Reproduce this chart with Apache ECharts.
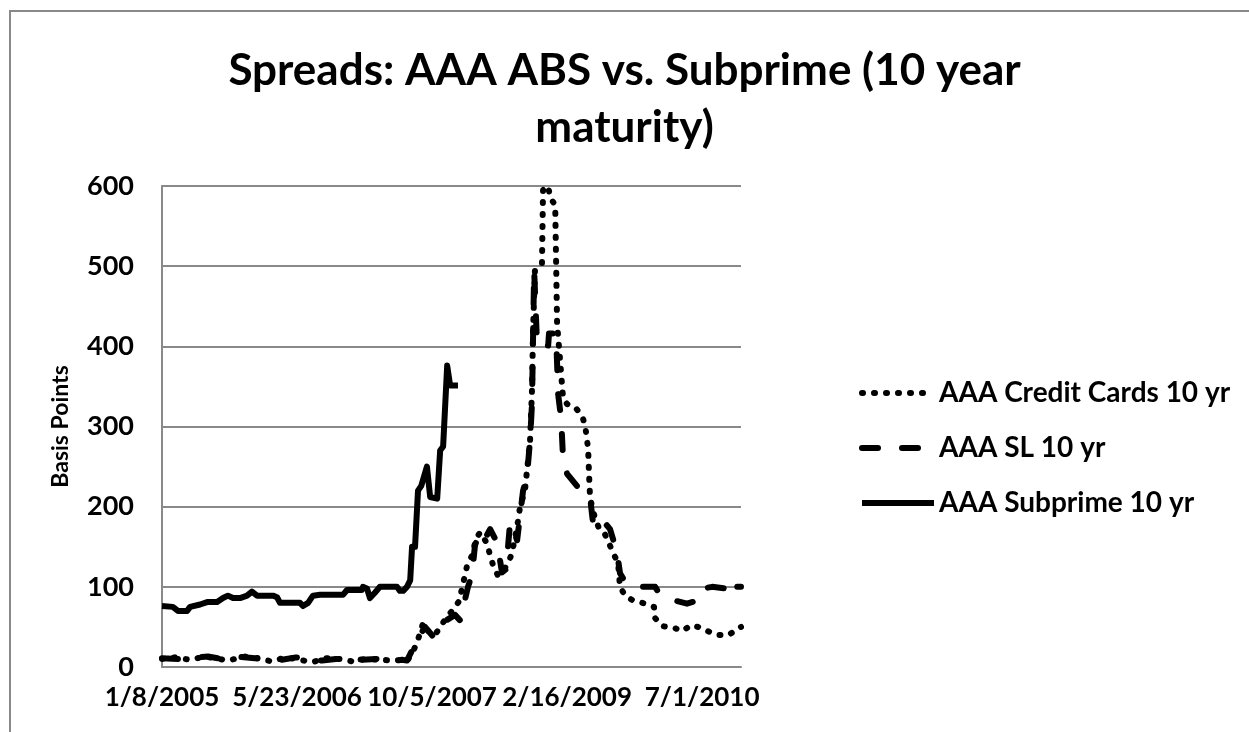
<!DOCTYPE html>
<html>
<head>
<meta charset="utf-8">
<script src="https://cdn.jsdelivr.net/npm/echarts@6/dist/echarts.min.js"></script>
<style>
html, body { margin: 0; padding: 0; background: #fff; }
#chart { width: 1249px; height: 732px; }
</style>
</head>
<body>
<div id="chart"></div>
<script>
const startDate = '2005-01-08'
const endDate = '2010-11-22'
const xTickLabels = ['1/8/2005', '5/23/2006', '10/5/2007', '2/16/2009', '7/1/2010']
const seriesNames = ['AAA Credit Cards 10 yr', 'AAA SL 10 yr', 'AAA Subprime 10 yr']

const creditCardDates = [
    '2005-01-08', '2005-02-25', '2005-04-22', '2005-06-16', '2005-07-23', '2005-09-09', '2005-11-11',
    '2006-01-06', '2006-02-19', '2006-04-09', '2006-06-03', '2006-07-18', '2006-09-04', '2006-10-29', '2006-12-13',
    '2007-01-30', '2007-03-26', '2007-05-21', '2007-06-20', '2007-07-04', '2007-07-27', '2007-08-10', '2007-09-02',
    '2007-09-20', '2007-10-16', '2007-11-04', '2007-11-30', '2007-12-18',
    '2008-01-13', '2008-01-24', '2008-02-12', '2008-03-01', '2008-03-16', '2008-03-31', '2008-04-26', '2008-05-07',
    '2008-05-18', '2008-06-05', '2008-06-24', '2008-07-12', '2008-07-27', '2008-08-15', '2008-08-26', '2008-09-13',
    '2008-10-02', '2008-10-09', '2008-10-13', '2008-10-20', '2008-11-15', '2008-11-19', '2008-12-08', '2008-12-15',
    '2009-01-03', '2009-01-10', '2009-01-21', '2009-02-01', '2009-02-16', '2009-03-18', '2009-04-13', '2009-04-24',
    '2009-05-05', '2009-05-08', '2009-05-12', '2009-05-20', '2009-05-31', '2009-06-18', '2009-07-07', '2009-08-09',
    '2009-08-24', '2009-08-31', '2009-09-19', '2009-10-18', '2009-12-02',
    '2010-01-04', '2010-01-08', '2010-02-03', '2010-03-16', '2010-04-22', '2010-05-18', '2010-06-16', '2010-07-20',
    '2010-08-26', '2010-10-09', '2010-11-08', '2010-11-22'
]
const creditCardValues = [
    10, 12, 9, 13, 11, 8, 13,
    10, 7, 12, 9, 6, 11, 10, 7,
    10, 9, 8, 9, 7, 20, 30, 55,
    45, 40, 50, 63, 70,
    82, 98, 127, 139, 160, 168, 154, 139,
    127, 114, 120, 129, 142, 175, 200, 220,
    283, 345, 420, 495, 503, 595, 600, 586,
    576, 428, 383, 336, 328, 324, 313, 301,
    272, 243, 212, 199, 185, 170, 165, 140,
    129, 100, 89, 83, 79,
    75, 61, 51, 49, 45, 52, 50, 45,
    40, 40, 48, 50
]

const slDates = [
    '2005-01-08', '2005-03-08', '2005-04-29', '2005-06-27', '2005-08-18', '2005-10-16', '2005-12-18',
    '2006-02-05', '2006-03-28', '2006-05-19', '2006-07-10', '2006-08-24', '2006-10-14', '2006-11-28',
    '2007-01-19', '2007-03-12', '2007-05-02', '2007-06-16', '2007-07-04', '2007-08-03', '2007-08-22', '2007-09-09',
    '2007-10-09', '2007-11-04', '2007-11-26', '2007-12-29',
    '2008-01-17', '2008-02-15', '2008-03-01', '2008-03-12', '2008-03-31', '2008-04-18', '2008-05-07', '2008-06-02',
    '2008-06-20', '2008-07-05', '2008-07-20', '2008-08-15', '2008-09-06', '2008-09-21', '2008-10-02', '2008-10-09',
    '2008-10-17', '2008-10-28', '2008-12-08', '2008-12-11',
    '2009-01-06', '2009-01-14', '2009-01-25', '2009-02-01', '2009-02-16', '2009-03-29', '2009-05-12', '2009-05-23',
    '2009-06-11', '2009-07-10', '2009-07-25', '2009-08-20', '2009-08-31', '2009-09-23', '2009-10-18',
    '2010-01-08', '2010-01-26', '2010-02-25', '2010-05-06', '2010-06-05', '2010-06-20', '2010-08-07', '2010-09-24',
    '2010-10-16', '2010-10-31', '2010-11-22'
]
const slValues = [
    11, 10, 12, 13, 10, 13, 11,
    12, 9, 12, 10, 8, 10, 11,
    9, 10, 8, 9, 8, 28, 40, 50,
    38, 45, 58, 65,
    58, 100, 115, 152, 168, 160, 172, 155,
    118, 122, 180, 158, 220, 240, 283, 328,
    495, 401, 401, 416,
    416, 340, 310, 261, 241, 224, 212, 180,
    170, 178, 172, 143, 117, 104, 100,
    100, 90, 85, 79, 82, 97, 100, 98,
    88, 100, 100
]

const subprimeDates = [
    '2005-01-08', '2005-02-17', '2005-03-08', '2005-04-11', '2005-04-22', '2005-05-29', '2005-06-24', '2005-07-31',
    '2005-08-22', '2005-09-09', '2005-09-28', '2005-10-24', '2005-11-19', '2005-12-07', '2005-12-26',
    '2006-02-23', '2006-03-10', '2006-03-21', '2006-06-03', '2006-06-14', '2006-07-03', '2006-07-21', '2006-08-16',
    '2006-11-09', '2006-11-24',
    '2007-01-18', '2007-01-22', '2007-02-06', '2007-02-17', '2007-03-08', '2007-03-26', '2007-05-28', '2007-06-08',
    '2007-06-20', '2007-07-04', '2007-07-16', '2007-07-23', '2007-08-03', '2007-08-14', '2007-08-26', '2007-09-02',
    '2007-09-16', '2007-09-28', '2007-10-24', '2007-11-04', '2007-11-15', '2007-11-30', '2007-12-07', '2007-12-11',
    '2008-01-09'
]
const subprimeValues = [
    76, 75, 70, 70, 75, 78, 81, 81,
    86, 89, 86, 86, 89, 94, 89,
    89, 87, 80, 80, 76, 80, 89, 90,
    90, 96,
    96, 100, 98, 86, 93, 100, 100, 95,
    95, 100, 108, 150, 150, 220, 226, 226,
    250, 212, 210, 270, 275, 376, 376, 351,
    351
]

const DAY = 86400000
const dayOffset = d => Math.round((Date.parse(d) - Date.parse(startDate)) / DAY)
const toPoints = (dates, values) => dates.map((d, i) => [dayOffset(d), values[i]])

const font = 'Lato, "Open Sans", sans-serif'
const gridGray = '#898989'
const dotted = { color: '#000', width: 6, type: [1, 11], cap: 'round', join: 'round' }
const dashed = { color: '#000', width: 6, type: [16, 24], cap: 'round', join: 'round' }
const solid = { color: '#000', width: 6, type: 'solid', join: 'round' }

const chart = echarts.init(document.getElementById('chart'))

chart.setOption({
    animation: false,
    backgroundColor: '#fff',
    color: ['#000', '#000', '#000'],
    graphic: [{
        type: 'rect',
        shape: { x: 10, y: 11, width: 1400, height: 900 },
        style: { fill: 'none', stroke: gridGray, lineWidth: 2 }
    }],
    title: {
        text: 'Spreads: AAA ABS vs. Subprime (10 year\nmaturity)',
        left: 'center',
        top: 42,
        padding: 0,
        textStyle: {
            fontFamily: font,
            fontSize: 44,
            fontWeight: 'bold',
            lineHeight: 57,
            color: '#000'
        }
    },
    legend: {
        orient: 'vertical',
        left: 854,
        top: 373,
        itemWidth: 72,
        itemHeight: 14,
        itemGap: 25,
        itemStyle: { opacity: 0 },
        data: [
            { name: seriesNames[0], lineStyle: dotted, itemStyle: { opacity: 0 } },
            { name: seriesNames[1], lineStyle: dashed, itemStyle: { opacity: 0 } },
            { name: seriesNames[2], lineStyle: solid, itemStyle: { opacity: 0 } }
        ],
        textStyle: {
            fontFamily: font,
            fontSize: 28,
            fontWeight: 'bold',
            lineHeight: 30,
            color: '#000'
        }
    },
    grid: {
        left: 162,
        right: 508,
        top: 186,
        bottom: 65
    },
    xAxis: {
        type: 'value',
        min: 0,
        max: dayOffset(endDate),
        interval: 500,
        axisLine: {
            show: true,
            lineStyle: { color: gridGray, width: 2 }
        },
        axisTick: { show: false },
        splitLine: { show: false },
        axisLabel: {
            showMaxLabel: false,
            margin: 18,
            fontFamily: font,
            fontSize: 26,
            fontWeight: 'bold',
            color: '#000',
            formatter: function (value) {
                if (value % 500 !== 0) return ''
                return xTickLabels[value / 500] || ''
            }
        }
    },
    yAxis: {
        type: 'value',
        min: 0,
        max: 600,
        interval: 100,
        name: 'Basis Points',
        nameLocation: 'middle',
        nameGap: 90,
        nameTextStyle: {
            fontFamily: font,
            fontSize: 23,
            fontWeight: 'bold',
            color: '#000'
        },
        axisLine: {
            show: true,
            lineStyle: { color: gridGray, width: 2 }
        },
        axisTick: { show: false },
        splitLine: {
            show: true,
            lineStyle: { color: gridGray, width: 2 }
        },
        axisLabel: {
            margin: 28,
            fontFamily: font,
            fontSize: 27,
            fontWeight: 'bold',
            color: '#000'
        }
    },
    series: [
        {
            name: seriesNames[0],
            type: 'line',
            symbol: 'none',
            data: toPoints(creditCardDates, creditCardValues),
            lineStyle: dotted
        },
        {
            name: seriesNames[1],
            type: 'line',
            symbol: 'none',
            data: toPoints(slDates, slValues),
            lineStyle: dashed
        },
        {
            name: seriesNames[2],
            type: 'line',
            symbol: 'none',
            data: toPoints(subprimeDates, subprimeValues),
            lineStyle: solid
        }
    ]
})
</script>
</body>
</html>
